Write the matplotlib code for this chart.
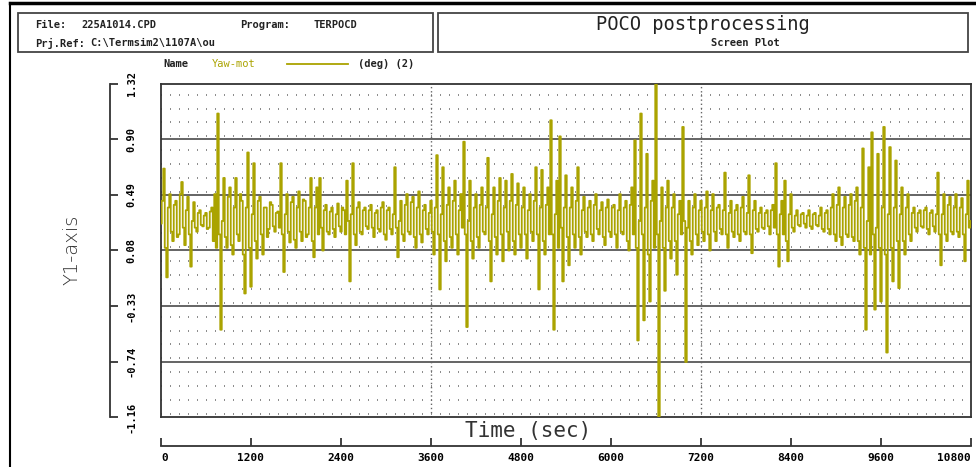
import numpy as np
import matplotlib
matplotlib.use('Agg')
import matplotlib.pyplot as plt
from matplotlib.lines import Line2D
from matplotlib.patches import Rectangle
from matplotlib.ticker import MultipleLocator

# Yaw-mot (deg), one value every 20 s
sample_step = 20
yaw = [
    0.28, 0.45, 0.69, 0.10, -0.12, 0.40, 0.50, 0.22, 0.15, 0.42, 0.45, 0.18, 0.20, 0.50, 0.59, 0.25, 0.12, 0.38, 0.48, 0.20,
    -0.04, 0.30, 0.44, 0.25, 0.22, 0.36, 0.38, 0.27, 0.26, 0.34, 0.36, 0.24, 0.25, 0.37, 0.40, 0.15, 0.50, 0.10, 1.10, 0.20,
    -0.51, 0.30, 0.62, 0.18, 0.10, 0.48, 0.55, 0.12, 0.05, 0.40, 0.62, 0.20, 0.15, 0.50, 0.45, 0.05, -0.24, 0.40, 0.81, 0.10,
    -0.19, 0.35, 0.73, 0.15, 0.02, 0.45, 0.48, 0.20, 0.05, 0.40, 0.40, 0.18, 0.24, 0.44, 0.42, 0.26, 0.22, 0.36, 0.37, 0.25,
    0.73, 0.20, -0.08, 0.35, 0.50, 0.22, 0.14, 0.44, 0.48, 0.16, 0.10, 0.40, 0.52, 0.22, 0.15, 0.46, 0.45, 0.18, 0.20, 0.40,
    0.62, 0.15, 0.03, 0.40, 0.55, 0.20, 0.62, 0.25, 0.08, 0.38, 0.42, 0.22, 0.20, 0.37, 0.40, 0.24, 0.18, 0.35, 0.43, 0.26,
    0.22, 0.40, 0.38, 0.20, 0.60, 0.30, -0.15, 0.35, 0.73, 0.20, 0.12, 0.40, 0.44, 0.22, 0.20, 0.38, 0.40, 0.26, 0.24, 0.38,
    0.42, 0.25, 0.18, 0.36, 0.38, 0.24, 0.22, 0.40, 0.44, 0.20, 0.16, 0.38, 0.40, 0.24, 0.20, 0.35, 0.70, 0.25, 0.03, 0.30,
    0.45, 0.20, 0.15, 0.42, 0.50, 0.22, 0.20, 0.44, 0.48, 0.18, 0.10, 0.40, 0.52, 0.20, 0.14, 0.38, 0.42, 0.24, 0.20, 0.36,
    0.45, 0.22, 0.05, 0.40, 0.79, 0.20, -0.21, 0.35, 0.70, 0.15, 0.00, 0.42, 0.55, 0.18, 0.10, 0.45, 0.60, 0.20, 0.05, 0.38,
    0.50, 0.25, 0.89, 0.20, -0.49, 0.30, 0.60, 0.15, 0.02, 0.40, 0.50, 0.18, 0.10, 0.42, 0.55, 0.22, 0.20, 0.40, 0.77, 0.15,
    -0.15, 0.35, 0.55, 0.18, 0.05, 0.45, 0.62, 0.20, 0.00, 0.40, 0.60, 0.22, 0.08, 0.45, 0.65, 0.15, 0.05, 0.42, 0.58, 0.20,
    0.10, 0.40, 0.55, 0.20, 0.02, 0.38, 0.50, 0.22, 0.15, 0.45, 0.70, 0.20, -0.21, 0.40, 0.68, 0.15, 0.05, 0.42, 0.55, 0.20,
    1.05, 0.20, -0.51, 0.35, 0.60, 0.10, 0.93, 0.25, -0.15, 0.40, 0.64, 0.18, -0.03, 0.40, 0.55, 0.20, 0.10, 0.45, 0.70, 0.18,
    0.05, 0.38, 0.48, 0.22, 0.18, 0.40, 0.45, 0.20, 0.15, 0.42, 0.50, 0.24, 0.20, 0.38, 0.44, 0.18, 0.12, 0.40, 0.46, 0.22,
    0.18, 0.40, 0.42, 0.20, 0.10, 0.38, 0.50, 0.22, 0.20, 0.40, 0.45, 0.15, 0.08, 0.42, 0.55, 0.20, 0.90, 0.10, -0.59, 0.30,
    1.10, 0.20, -0.44, 0.40, 0.80, 0.05, -0.30, 0.45, 0.60, 0.10, 1.32, 0.20, -1.16, 0.30, 0.55, 0.10, -0.22, 0.40, 0.60, 0.15,
    0.02, 0.40, 0.50, 0.15, -0.10, 0.35, 0.45, 0.20, 1.00, 0.30, -0.75, 0.25, 0.45, 0.15, 0.05, 0.40, 0.50, 0.20, 0.12, 0.38,
    0.45, 0.22, 0.15, 0.40, 0.52, 0.20, 0.08, 0.38, 0.50, 0.22, 0.15, 0.40, 0.42, 0.24, 0.20, 0.38, 0.66, 0.20, 0.10, 0.36,
    0.45, 0.22, 0.18, 0.38, 0.42, 0.20, 0.15, 0.40, 0.48, 0.22, 0.20, 0.36, 0.64, 0.20, 0.06, 0.38, 0.45, 0.24, 0.22, 0.36,
    0.40, 0.25, 0.24, 0.36, 0.38, 0.26, 0.20, 0.38, 0.42, 0.25, 0.73, 0.20, -0.04, 0.35, 0.45, 0.20, 0.60, 0.15, 0.00, 0.35,
    0.50, 0.25, 0.22, 0.34, 0.38, 0.27, 0.26, 0.35, 0.36, 0.28, 0.25, 0.34, 0.38, 0.26, 0.24, 0.35, 0.36, 0.27, 0.26, 0.34,
    0.40, 0.24, 0.22, 0.36, 0.38, 0.24, 0.20, 0.40, 0.50, 0.20, 0.15, 0.42, 0.55, 0.18, 0.12, 0.40, 0.48, 0.20, 0.18, 0.42,
    0.50, 0.18, 0.15, 0.45, 0.55, 0.15, 0.05, 0.40, 0.84, 0.10, -0.51, 0.30, 0.70, 0.05, 0.96, 0.20, -0.36, 0.25, 0.80, 0.10,
    -0.30, 0.40, 1.00, 0.05, -0.68, 0.35, 0.85, 0.10, -0.15, 0.40, 0.75, 0.15, -0.20, 0.35, 0.55, 0.15, 0.05, 0.40, 0.50, 0.20,
    0.15, 0.36, 0.40, 0.25, 0.22, 0.36, 0.38, 0.26, 0.25, 0.38, 0.40, 0.24, 0.20, 0.36, 0.38, 0.26, 0.22, 0.35, 0.66, 0.20,
    -0.03, 0.35, 0.50, 0.20, 0.15, 0.42, 0.48, 0.22, 0.20, 0.40, 0.50, 0.22, 0.18, 0.40, 0.47, 0.20, 0.00, 0.35, 0.60, 0.25,
    0.30,
]
times = np.arange(len(yaw)) * sample_step

y_min, y_max = -1.16, 1.32
y_tick_labels = ['-1.16', '-0.74', '-0.33', '0.08', '0.49', '0.90', '1.32']
x_ticks = [0, 1200, 2400, 3600, 4800, 6000, 7200, 8400, 9600, 10800]
marker_times = [3600, 7200]

olive = '#aaa300'
mono = 'DejaVu Sans Mono'

W, H = 976, 467
fig = plt.figure(figsize=(W / 100, H / 100), dpi=100)


def fx(px):
    return px / W


def fy(py):
    return 1 - py / H


y_ticks = np.linspace(y_min, y_max, len(y_tick_labels))
y_step = y_ticks[1] - y_ticks[0]

# main plot area
ax = fig.add_axes([fx(161), fy(417), (971 - 161) / W, (417 - 84) / H])
ax.plot(times, yaw, color=olive, lw=1.3, drawstyle='steps-mid', zorder=3)
ax.set_xlim(0, 10800)
ax.set_ylim(y_min, y_max)
ax.set_yticks(y_ticks[1:-1])
ax.set_xticks([])
ax.yaxis.set_minor_locator(MultipleLocator(y_step / 4))
ax.set_axisbelow(True)
ax.grid(which='major', axis='y', color='#4a4a4a', lw=1.2)
ax.grid(which='minor', axis='y', color='#777777', lw=1.2, linestyle=(0, (0.6, 4.8)))
ax.tick_params(which='both', left=False, bottom=False, labelleft=False, labelbottom=False)
for t in marker_times:
    ax.axvline(t, color='#666666', lw=1.0, linestyle=(0, (1, 2)), zorder=1)
for s in ax.spines.values():
    s.set_color('#333333')
    s.set_linewidth(1.3)

# y axis bracket
ax_y = fig.add_axes([fx(110), fy(417), 1e-4, (417 - 84) / H])
ax_y.set_ylim(y_min, y_max)
ax_y.set_yticks(y_ticks)
ax_y.set_yticklabels(y_tick_labels)
ax_y.set_xticks([])
for k in ['top', 'bottom', 'right']:
    ax_y.spines[k].set_visible(False)
ax_y.spines['left'].set_linewidth(1.3)
ax_y.spines['left'].set_color('#333333')
ax_y.tick_params(axis='y', direction='in', length=6, width=1.3, color='#333333',
                 left=True, right=False, labelleft=False, labelright=True, pad=12)
for lab in ax_y.get_yticklabels():
    lab.set_rotation(90)
    lab.set_va('center')
    lab.set_ha('left')
    lab.set_family(mono)
    lab.set_fontweight('bold')
    lab.set_fontsize(7.5)

# x axis line below
ax_x = fig.add_axes([fx(161), fy(446), (971 - 161) / W, 1e-4])
ax_x.set_xlim(0, 10800)
ax_x.set_xticks(x_ticks)
ax_x.set_xticklabels([str(v) for v in x_ticks])
ax_x.set_yticks([])
for k in ['top', 'left', 'right']:
    ax_x.spines[k].set_visible(False)
ax_x.spines['bottom'].set_linewidth(1.3)
ax_x.spines['bottom'].set_color('#333333')
ax_x.tick_params(axis='x', direction='in', length=6, width=1.3, color='#333333', pad=5)
xlabs = ax_x.get_xticklabels()
for lab in xlabs:
    lab.set_family(mono)
    lab.set_fontweight('bold')
    lab.set_fontsize(8)
xlabs[0].set_ha('left')
xlabs[-1].set_ha('right')

fig.text(fx(72), fy(250), 'Y1-axis', rotation=90, ha='center', va='center',
         fontsize=14, color='#333333', family='DejaVu Sans', fontweight='light')
fig.text(fx(528), fy(431), 'Time (sec)', ha='center', va='center',
         fontsize=15, color='#333333', family=mono)

# outer frame
fig.add_artist(Line2D([fx(10), fx(976)], [fy(3), fy(3)], color='black', lw=2.5))
fig.add_artist(Line2D([fx(10), fx(10)], [fy(3), fy(467)], color='black', lw=1.5))

# header boxes
for x0, x1 in [(18, 433), (438, 968)]:
    fig.add_artist(Rectangle((fx(x0), fy(52)), (x1 - x0) / W, (52 - 13) / H,
                             fill=False, ec='#444444', lw=1.3,
                             transform=fig.transFigure))

hdr = dict(family=mono, fontsize=7.5, fontweight='bold', color='#222222', va='center')
fig.text(fx(35), fy(25), 'File:', **hdr)
fig.text(fx(81), fy(25), '225A1014.CPD', **hdr)
fig.text(fx(240), fy(25), 'Program:', **hdr)
fig.text(fx(313), fy(25), 'TERPOCD', **hdr)
fig.text(fx(35), fy(43), 'Prj.Ref:', **hdr)
fig.text(fx(90), fy(43), 'C:\\Termsim2\\1107A\\ou', **hdr)

fig.text(fx(703), fy(24), 'POCO postprocessing', ha='center', va='center',
         family=mono, fontsize=13.5, color='#222222')
fig.text(fx(745), fy(43), 'Screen Plot', ha='center', va='center',
         family=mono, fontsize=7.5, fontweight='bold', color='#222222')

# legend row
fig.text(fx(163), fy(64), 'Name', **hdr)
fig.text(fx(212), fy(64), 'Yaw-mot', family=mono, fontsize=7.5, color=olive, va='center')
fig.add_artist(Line2D([fx(287), fx(348)], [fy(64), fy(64)], color=olive, lw=1.3))
fig.text(fx(358), fy(64), '(deg) (2)', **hdr)

fig.savefig('out.png', dpi=100)
